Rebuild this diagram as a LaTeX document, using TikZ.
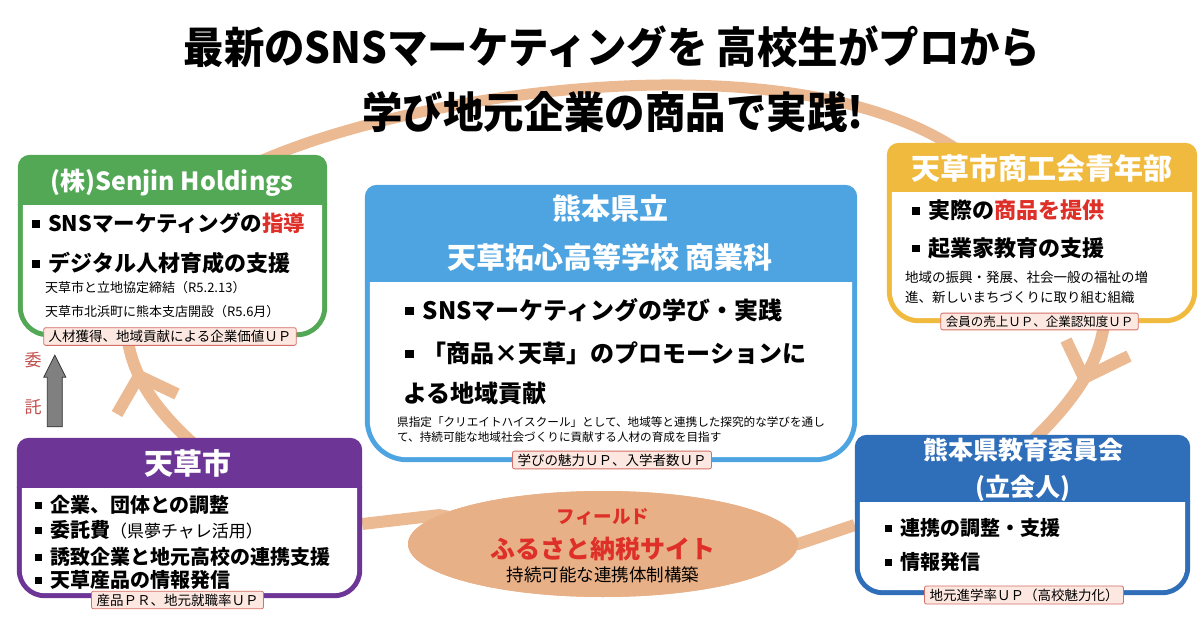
\documentclass[tikz,border=0pt]{standalone}
\usepackage{fontspec}
\setmainfont{Noto Sans CJK JP}
\usepackage{graphicx}
\usetikzlibrary{calc,shapes.geometric}
\definecolor{ringtan}{RGB}{236,186,146}
\definecolor{fieldtan}{RGB}{232,176,134}
\definecolor{senjingreen}{RGB}{82,168,84}
\definecolor{schoolblue}{RGB}{78,164,225}
\definecolor{chamberyellow}{RGB}{240,186,62}
\definecolor{boardblue}{RGB}{47,110,185}
\definecolor{citypurple}{RGB}{108,53,150}
\definecolor{accentred}{RGB}{222,48,40}
\definecolor{trustred}{RGB}{192,80,77}
\definecolor{tagfill}{RGB}{252,232,225}
\definecolor{tagline}{RGB}{212,112,102}
\def\fsz#1{\fontsize{#1}{#1}\selectfont}
\def\sq{\rule[0.17em]{0.36em}{0.36em}\hspace{0.38em}}
% frame of one organisation: name, colour, header height, bottom radius
\def\orgframe#1#2#3#4{%
  \begin{scope}
    \clip ([yshift=-#3pt]#1.north west) rectangle (#1.south east);
    \fill[#2, rounded corners=#4pt] ([yshift=30pt]#1.north west) rectangle (#1.south east);
    \fill[white, rounded corners=#4pt-5pt] ([shift={(5pt,30pt)}]#1.north west) rectangle ([shift={(-5pt,5pt)}]#1.south east);
  \end{scope}
  \begin{scope}
    \clip (#1.north west) rectangle ([yshift=-#3pt]#1.north east);
    \fill[#2, rounded corners=12pt] (#1.north west) rectangle ([yshift=-30pt]#1.south east);
  \end{scope}
}
\tikzset{
  area/.style={rectangle, inner sep=0pt},
  ring/.style={line width=12pt, color=ringtan, line join=round},
  head/.style={text=white, inner sep=0pt},
  item/.style={anchor=west, inner sep=0pt},
  tag/.style={draw=tagline, fill=tagfill, rounded corners=2pt, line width=0.8pt, inner xsep=5pt, inner ysep=2.6pt, font=\fsz{13.5}},
  trustarrow/.style={fill=black!50, draw=black!80, line width=0.8pt},
}
\begin{document}
\begin{tikzpicture}[x=1pt, y=-1pt]
			\useasboundingbox (0,0) rectangle (1200,618);
			
			%%%%% AREAS %%%%%
			\node[area, minimum width=309pt, minimum height=182pt] (senjin) at (172.5,246) {};
			\node[area, minimum width=492pt, minimum height=277pt] (school) at (611,323.5) {};
			\node[area, minimum width=310pt, minimum height=180pt] (shokokai) at (1042,233) {};
			\node[area, minimum width=335pt, minimum height=160pt] (board) at (1022.5,515) {};
			\node[area, minimum width=345pt, minimum height=160pt] (city) at (189.5,518) {};
			
			%%%%% RING %%%%%
			\draw[ring, line width=11pt] ($(senjin.north)+(86,7)$) .. controls (420,90) and (790,38) .. ($(shokokai.north)+(-84,7)$);
			\draw[ring] ($(senjin.south)+(-46,-7)$) .. controls (130,370) and (150,405) .. ($(city.north)+(5,7)$);
			\draw[ring] ($(shokokai.south)+(63,-5)$) .. controls (1100,360) and (1080,395) .. ($(board.north)+(8,8)$);
			
			\coordinate (ltip) at (139,376);
			\coordinate (larmA) at (117,414);
			\coordinate (larmB) at (177,394);
			\draw[ring] (larmA) -- (ltip) -- (larmB);
			
			\coordinate (rtip) at (1084,378);
			\coordinate (rarmA) at (1066,340);
			\coordinate (rarmB) at (1129,356);
			\draw[ring] (rarmA) -- (rtip) -- (rarmB);
			
			\node[ellipse, fill=fieldtan, minimum width=390pt, minimum height=106pt, inner sep=0pt] (furusato) at (603,544) {};
			\draw[ring] ([yshift=-6pt]city.east) -- (furusato.170) -- (furusato.center);
			\draw[ring] (furusato.center) -- (furusato.east) -- ([yshift=-10pt]board.west);
			\node[ellipse, fill=fieldtan, minimum width=390pt, minimum height=106pt, inner sep=0pt] at (furusato) {};
			
			\node[text=accentred, font=\bfseries\fsz{18.5}] (field) at (603,517) {フィールド};
			\node[text=accentred, font=\bfseries\fsz{25}] (fieldname) at (603,549) {ふるさと納税サイト};
			\node[font=\fsz{17.5}] (fieldnote) at (603,575) {持続可能な連携体制構築};
			
			%%%%% FRAMES %%%%%
			\orgframe{senjin}{senjingreen}{50}{30}
			\orgframe{school}{schoolblue}{97}{42}
			\orgframe{shokokai}{chamberyellow}{49}{32}
			\orgframe{board}{boardblue}{67}{28}
			\orgframe{city}{citypurple}{50}{28}
			
			%%%%% SENJIN %%%%%
			\node[head, font=\bfseries\fsz{25}] (senjinH) at (172,183) {(株)Senjin Holdings};
			\node[item, font=\bfseries\fsz{21.5}] (senjin1) at (32,223) {\sq SNSマーケティングの\textcolor{accentred}{指導}};
			\node[item, font=\bfseries\fsz{22}] (senjin2) at (32,263) {\sq デジタル人材育成の支援};
			\node[item, font=\fsz{13}] (senjin3) at (45,288) {天草市と立地協定締結（R5.2.13）};
			\node[item, font=\fsz{13}] (senjin4) at (45,312) {天草市北浜町に熊本支店開設（R5.6月）};
			\node[tag] (senjinT) at (170,336.5) {人材獲得、地域貢献による企業価値ＵＰ};
			
			%%%%% SCHOOL %%%%%
			\node[head, font=\bfseries\fsz{29}] (schoolH1) at (610,208) {熊本県立};
			\node[head, font=\bfseries\fsz{29}] (schoolH2) at (610,257) {天草拓心高等学校 商業科};
			\node[item, font=\bfseries\fsz{24}] (school1) at (405,310) {\sq SNSマーケティングの学び・実践};
			\node[item, font=\bfseries\fsz{24}] (school2) at (405,353) {\sq 「商品×天草」のプロモーションに};
			\node[item, font=\bfseries\fsz{24}] (school3) at (403,393) {よる地域貢献};
			\node[item, font=\fsz{11.6}] (school4) at (397,422) {県指定「クリエイトハイスクール」として、地域等と連携した探究的な学びを通し};
			\node[item, font=\fsz{11.6}] (school5) at (397,437) {て、持続可能な地域社会づくりに貢献する人材の育成を目指す};
			\node[tag] (schoolT) at (612,460) {学びの魅力ＵＰ、入学者数ＵＰ};
			
			%%%%% SHOKOKAI %%%%%
			\node[head, font=\bfseries\fsz{29}] (shokokaiH) at (1042,168) {天草市商工会青年部};
			\node[item, font=\bfseries\fsz{22}] (shokokai1) at (912,210) {\sq 実際の\textcolor{accentred}{商品を提供}};
			\node[item, font=\bfseries\fsz{22}] (shokokai2) at (912,248) {\sq 起業家教育の支援};
			\node[item, font=\fsz{13.5}] (shokokai3) at (905,277) {地域の振興・発展、社会一般の福祉の増};
			\node[item, font=\fsz{13.5}] (shokokai4) at (905,297) {進、新しいまちづくりに取り組む組織};
			\node[tag, font=\fsz{12.5}] (shokokaiT) at (1039.5,321.5) {会員の売上ＵＰ、企業認知度ＵＰ};
			
			%%%%% BOARD %%%%%
			\node[head, font=\bfseries\fsz{25}] (boardH1) at (1023,450) {熊本県教育委員会};
			\node[head, font=\bfseries\fsz{25}] (boardH2) at (1023,488) {(立会人)};
			\node[item, font=\bfseries\fsz{20}] (board1) at (885,528) {\sq 連携の調整・支援};
			\node[item, font=\bfseries\fsz{20}] (board2) at (885,562) {\sq 情報発信};
			\node[tag] (boardT) at (1024,595) {地元進学率ＵＰ（高校魅力化）};
			
			%%%%% CITY %%%%%
			\node[head, font=\bfseries\fsz{29}] (cityH) at (188,463) {天草市};
			\node[item, font=\bfseries\fsz{20}] (city1) at (35,505) {\sq 企業、団体との調整};
			\node[item, font=\bfseries\fsz{20}] (city2) at (35,530) {\sq 委託費{\mdseries\fsz{17}（県夢チャレ活用）}};
			\node[item, font=\bfseries\fsz{20}] (city3) at (35,557) {\sq 誘致企業と地元高校の連携支援};
			\node[item, font=\bfseries\fsz{20}] (city4) at (35,580) {\sq 天草産品の情報発信};
			\node[tag] (cityT) at (177.5,600) {産品ＰＲ、地元就職率ＵＰ};
			
			%%%%% ENTRUST %%%%%
			\coordinate (trustB) at ($(city.north west)+(38,-11)$);
			\coordinate (trustT) at ($(senjin.south west)+(37,18)$);
			\draw[trustarrow] ($(trustB)+(-7.5,0)$) -- ($(trustT)+(-7.5,22)$) -- ($(trustT)+(-11,22)$) -- (trustT) -- ($(trustT)+(11,22)$) -- ($(trustT)+(7.5,22)$) -- ($(trustB)+(7.5,0)$) -- cycle;
			\node[text=trustred, font=\fsz{17}] (trust1) at (33,360) {委};
			\node[text=trustred, font=\fsz{17}] (trust2) at (33,407) {託};
			
			%%%%% TITLE %%%%%
			\node[font=\bfseries\fsz{43}] (title1) at (612,47) {\scalebox{0.94}[1]{最新のSNSマーケティングを 高校生がプロから}};
			\node[font=\bfseries\fsz{43}] (title2) at (613,112) {\scalebox{0.94}[1]{学び地元企業の商品で実践!}};
			
		\end{tikzpicture}
\end{document}
